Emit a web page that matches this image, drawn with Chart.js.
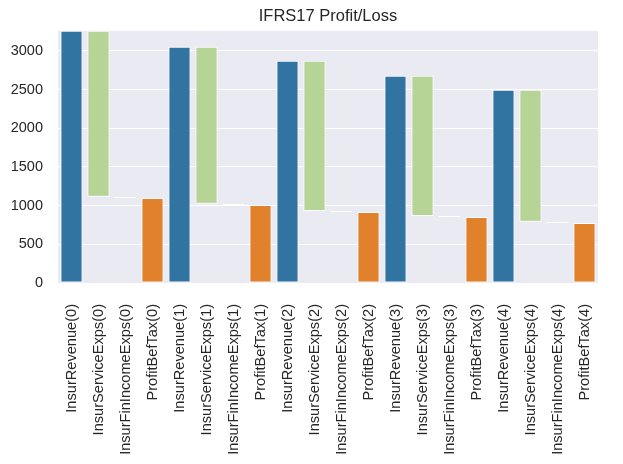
<!DOCTYPE html>
<html>
<head>
<meta charset="utf-8">
<script src="https://cdn.jsdelivr.net/npm/chart.js@4"></script>
<style>
  html, body { margin: 0; padding: 0; background: #fff; }
  #wrap { width: 623px; height: 464px; }
</style>
</head>
<body>
<div id="wrap"><canvas id="IdWaterfall"></canvas></div>
<script>
Chart.defaults.font.family = "'Liberation Sans', Arial, sans-serif";
Chart.defaults.color = "#262626";

const periods = [0, 1, 2, 3, 4];
const insurRevenue = [3260, 3053, 2872, 2678, 2497];
const insurServiceExps = [2144, 2027, 1941, 1811, 1704];
const insurFinIncomeExps = [16, 17, 13, 13, 17];
const profitBefTax = [1100, 1009, 918, 854, 776];
const yTicks = [0, 500, 1000, 1500, 2000, 2500, 3000];

const colors = ["#3274a1", "#b5d495", "#ecebf3", "#e1812c"];

const labels = [];
const ranges = [];
const barColors = [];
periods.forEach((p, i) => {
  const top = insurRevenue[i];
  const afterSvc = top - insurServiceExps[i];
  const afterFin = afterSvc - insurFinIncomeExps[i];
  labels.push("InsurRevenue(" + p + ")", "InsurServiceExps(" + p + ")",
              "InsurFinIncomeExps(" + p + ")", "ProfitBefTax(" + p + ")");
  ranges.push([0, top], [afterSvc, top], [afterFin, afterSvc], [0, profitBefTax[i]]);
  barColors.push(...colors);
});

// grey plot background, and centre the title over the plot area
const plotBg = {
  id: "plotBg",
  afterLayout(chart) {
    const t = chart.titleBlock;
    if (t) {
      t.left = chart.chartArea.left;
      t.right = chart.chartArea.right;
    }
  },
  beforeDraw(chart) {
    const { ctx, chartArea: a } = chart;
    ctx.save();
    ctx.fillStyle = "#eaeaf2";
    ctx.fillRect(a.left, a.top, a.right - a.left, a.bottom - a.top);
    ctx.restore();
  }
};

new Chart("IdWaterfall", {
  type: "bar",
  data: {
    labels,
    datasets: [{
      data: ranges,
      backgroundColor: barColors,
      borderColor: "#ffffff",
      borderWidth: 1,
      borderSkipped: false,
      barPercentage: 0.82,
      categoryPercentage: 1
    }]
  },
  options: {
    responsive: true,
    maintainAspectRatio: false,
    animation: false,
    layout: { padding: { left: 0, right: 0, top: 0, bottom: 0 } },
    plugins: {
      legend: { display: false },
      tooltip: { enabled: false },
      title: {
        display: true,
        text: "IFRS17 Profit/Loss",
        color: "#262626",
        font: { size: 16.5, weight: "normal", lineHeight: 1.2 },
        padding: { top: 7, bottom: 4 }
      }
    },
    scales: {
      x: {
        grid: { display: false, drawTicks: false },
        border: { display: false },
        ticks: {
          minRotation: 90,
          maxRotation: 90,
          autoSkip: false,
          padding: 21,
          color: "#262626",
          font: { size: 14.6 }
        },
        afterFit: (s) => { s.height = 181; }
      },
      y: {
        min: 0,
        max: insurRevenue[0],
        grid: { color: "#ffffff", lineWidth: 1, drawTicks: false },
        border: { display: false },
        afterBuildTicks: (s) => { s.ticks = yTicks.map(v => ({ value: v })); },
        ticks: {
          padding: 15,
          color: "#262626",
          font: { size: 14.5 },
          callback: (v) => String(v)
        },
        afterFit: (s) => { s.width = 58; }
      }
    }
  },
  plugins: [plotBg]
});
</script>
</body>
</html>
